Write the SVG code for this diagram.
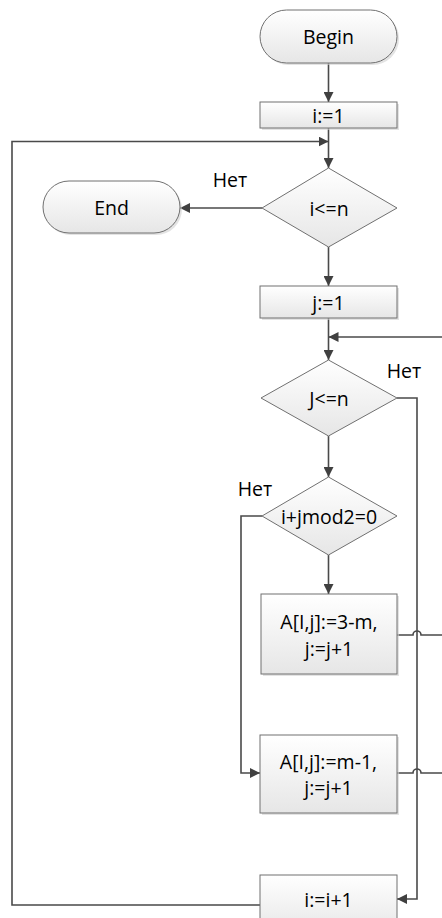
<svg xmlns="http://www.w3.org/2000/svg" width="442" height="918" viewBox="0 0 442 918">
<defs>
<linearGradient id="g" x1="0" y1="0" x2="0" y2="1">
<stop offset="0" stop-color="#ffffff"/>
<stop offset="1" stop-color="#e6e6e6"/>
</linearGradient>
<marker id="ah" viewBox="0 0 10 10" refX="10" refY="5" markerWidth="10" markerHeight="10" markerUnits="userSpaceOnUse" orient="auto">
<path d="M0,0 L10,5 L0,10 z" fill="#404040"/>
</marker>
</defs>
<style>
.s{fill:url(#g);stroke:#707070;stroke-width:1}
.sh{fill:#d0d0d0;stroke:none;opacity:0.6}
.t{font-family:"Open Sans","Liberation Sans",sans-serif;font-size:19.5px;fill:#000;text-anchor:middle;dominant-baseline:central}
.c{fill:none;stroke:#4a4a4a;stroke-width:1.6}
.a{marker-end:url(#ah)}
</style>
<g id="connectors">
<path class="c a" d="M328.5,63 V102"/>
<path class="c a" d="M328.5,128 V168"/>
<path class="c a" d="M260,905 H12 V141.5 H328.5"/>
<path class="c a" d="M262,208 H180"/>
<path class="c a" d="M328.5,247 V286"/>
<path class="c a" d="M328.5,318 V360"/>
<path class="c a" d="M442,337 H328.5"/>
<path class="c a" d="M397,398 H417 V899 H397"/>
<path class="c a" d="M328.5,436 V477"/>
<path class="c a" d="M262,516 H241 V773 H260"/>
<path class="c a" d="M328.5,555 V594"/>
<path class="c" d="M397,635 H413 a4,4 0 0 1 8,0 H442"/>
<path class="c" d="M397,773 H413 a4,4 0 0 1 8,0 H442"/>
</g>
<g id="begin">
<rect class="sh" x="262" y="12" width="137" height="53" rx="26.5"/>
<rect class="s" x="260" y="10" width="137" height="53" rx="26.5"/>
<text class="t" x="328.5" y="36.5">Begin</text>
</g>
<g id="i1">
<rect class="sh" x="262" y="104" width="137" height="26"/>
<rect class="s" x="260" y="102" width="137" height="26"/>
<text class="t" x="328.5" y="115">i:=1</text>
</g>
<g id="cond_i">
<polygon class="s" points="328.5,168 397,208 328.5,247 262,208"/>
<text class="t" x="329" y="208">i&lt;=n</text>
<text class="t" x="230" y="179">Нет</text>
</g>
<g id="end">
<rect class="sh" x="45" y="183" width="137" height="52" rx="26"/>
<rect class="s" x="43" y="181" width="137" height="52" rx="26"/>
<text class="t" x="111.5" y="207">End</text>
</g>
<g id="j1">
<rect class="sh" x="262" y="288" width="137" height="32"/>
<rect class="s" x="260" y="286" width="137" height="32"/>
<text class="t" x="328.5" y="302">j:=1</text>
</g>
<g id="cond_j">
<polygon class="s" points="328.5,360 397,398 328.5,436 261,398"/>
<text class="t" x="329" y="398">J&lt;=n</text>
<text class="t" x="404" y="370">Нет</text>
</g>
<g id="cond_mod">
<polygon class="s" points="328.5,477 397,516 328.5,555 262,516"/>
<text class="t" x="329" y="516">i+jmod2=0</text>
<text class="t" x="255" y="488">Нет</text>
</g>
<g id="a1">
<rect class="sh" x="263" y="596" width="136" height="80"/>
<rect class="s" x="261" y="594" width="136" height="80"/>
<text class="t" x="329" y="621">A[I,j]:=3-m,</text>
<text class="t" x="329" y="648">j:=j+1</text>
</g>
<g id="a2">
<rect class="sh" x="262" y="737" width="137" height="78"/>
<rect class="s" x="260" y="735" width="137" height="78"/>
<text class="t" x="328.5" y="761">A[I,j]:=m-1,</text>
<text class="t" x="328.5" y="787">j:=j+1</text>
</g>
<g id="inc">
<rect class="s" x="260" y="875" width="137" height="60"/>
<text class="t" x="328.5" y="899">i:=i+1</text>
</g>
</svg>
